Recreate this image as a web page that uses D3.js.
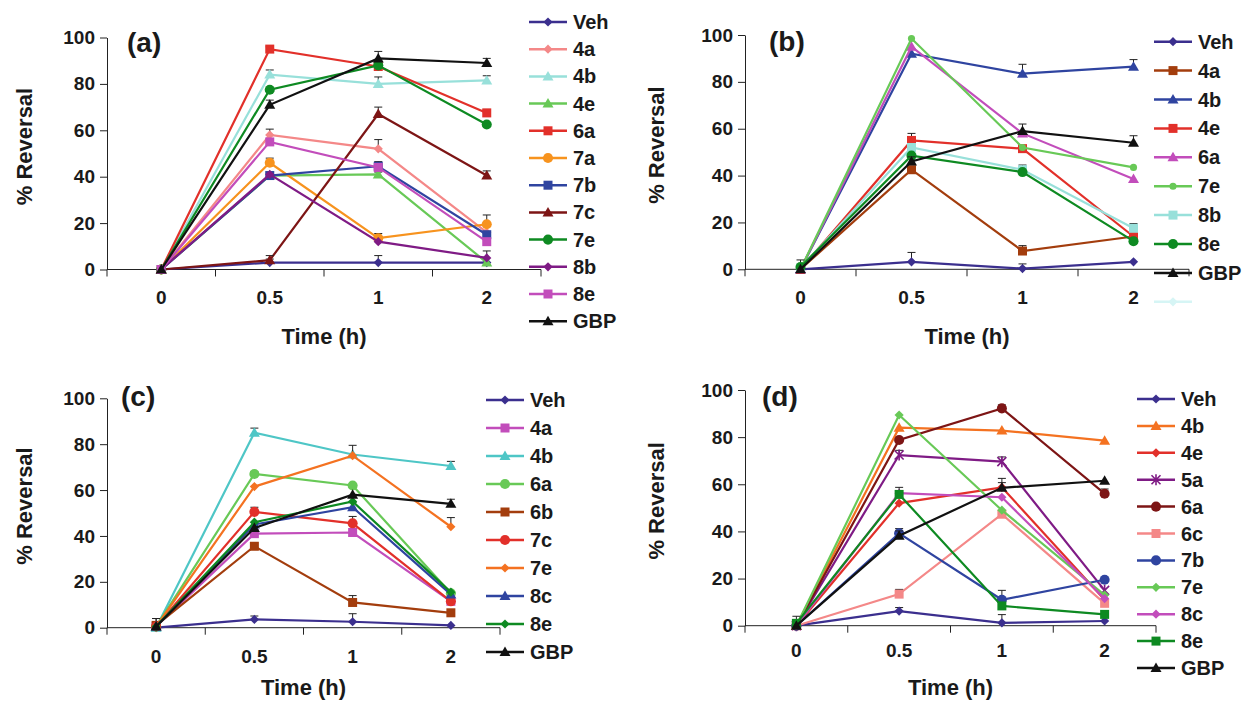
<!DOCTYPE html>
<html>
<head>
<meta charset="utf-8">
<script src="https://cdn.jsdelivr.net/npm/d3@7"></script>
<style>
body { margin: 0; background: #fff; }
svg { font-family: "Liberation Sans", Arial, sans-serif; font-weight: bold; }
</style>
</head>
<body>
<svg id="chart" width="1242" height="701"></svg>
<script>
const times = ["0", "0.5", "1", "2"];
const yTicks = [0, 20, 40, 60, 80, 100];

// panel (a)
const namesA = ["Veh", "4a", "4b", "4e", "6a", "7a", "7b", "7c", "7e", "8b", "8e", "GBP"];
const valuesA = [
  [0, 3, 3, 3], [0, 58, 52, 16], [0, 84, 80, 81.5], [0, 40.5, 41, 3],
  [0, 95, 87.5, 67.5], [0, 46, 13.5, 19.5], [0, 40.5, 44.5, 15], [0, 4, 67, 40.5],
  [0, 77.5, 88, 62.5], [0, 41, 12, 5], [0, 55, 44, 12], [0, 71, 91, 89]
];
const errorsA = [
  [0, 1.5, 3, 0], [0, 2.5, 4, 0], [0, 2, 3, 2], [0, 0, 1, 0],
  [0, 1, 0, 1.5], [0, 2, 2, 4], [0, 1, 2, 0], [0, 2, 3, 2],
  [0, 0, 1, 0], [0, 0, 0, 3], [0, 0, 0, 0], [0, 2, 3, 2]
];
const colorsA = ["#3b2f8e", "#f48888", "#98e0da", "#68c957", "#e2302a", "#f7931e",
  "#2f44a0", "#7d1515", "#0e8a22", "#7f1b85", "#c24dbb", "#111111"];
const shapesA = ["diamond", "diamond", "triangle", "triangle", "square", "circle",
  "square", "triangle", "circle", "diamond", "square", "triangle"];

// panel (b)
const namesB = ["Veh", "4a", "4b", "4e", "6a", "7e", "8b", "8e", "GBP", ""];
const valuesB = [
  [0, 3.2, 0.3, 3.2], [0, 42.5, 7.8, 14], [0, 92, 83.5, 86.5], [0, 55, 51.5, 14],
  [0, 95, 58, 38.5], [0, 98.5, 52, 43.5], [0.5, 52, 42.5, 17.5], [1, 48.5, 41.5, 12],
  [0, 46, 59, 54], [null, null, null, null]
];
const errorsB = [
  [0, 4, 2, 0], [0, 0, 2.3, 0], [0, 2, 4, 3], [0, 3, 0, 0],
  [0, 0, 0, 0], [0, 0, 0, 0], [0, 0, 2, 2], [3, 0, 0, 0],
  [0, 2, 3, 3], [0, 0, 0, 0]
];
const colorsB = ["#3b2f8e", "#a33d0d", "#2f44a0", "#e2302a", "#c24dbb", "#68c957",
  "#98e0da", "#0e8a22", "#111111", "#d6f5f5"];
const shapesB = ["diamond", "square", "triangle", "square", "triangle", "dot",
  "square", "circle", "triangle", "diamond"];

// panel (c)
const namesC = ["Veh", "4a", "4b", "6a", "6b", "7c", "7e", "8c", "8e", "GBP"];
const valuesC = [
  [0, 3.6, 2.6, 1], [0.5, 41, 41.5, 11.5], [0, 85, 75.5, 70.5], [0.5, 67, 62, 15],
  [1, 35.5, 11, 6.5], [0.5, 50.5, 45.5, 11.5], [0.5, 61.5, 75, 44], [0.5, 45, 52.5, 14.5],
  [0.5, 46, 55, 15.5], [0.5, 43.5, 58, 54]
];
const errorsC = [
  [0, 1.5, 3.5, 0], [0, 0, 0, 0], [4, 2, 0, 2], [0, 1, 0, 0],
  [3, 0, 3, 0], [0, 2, 3, 0], [0, 0, 4.5, 4], [0, 0, 2, 0],
  [0, 0, 0, 0], [0, 0, 0, 2]
];
const colorsC = ["#3b2f8e", "#c24dbb", "#4ec6c6", "#68c957", "#a33d0d", "#e2302a",
  "#f47221", "#2f44a0", "#0e8a22", "#111111"];
const shapesC = ["diamond", "square", "triangle", "circle", "square", "circle",
  "diamond", "triangle", "diamond", "triangle"];

// panel (d)
const namesD = ["Veh", "4b", "4e", "5a", "6a", "6c", "7b", "7e", "8c", "8e", "GBP"];
const valuesD = [
  [0, 6.2, 1.2, 2], [0, 84, 82.8, 78.5], [0, 52, 58.7, 11], [0, 72.4, 69.6, 15],
  [0, 78.8, 92.2, 56], [0, 13.4, 47.3, 9.5], [0, 39.2, 11, 19.5], [0, 89.4, 49, 13],
  [0, 56.2, 54.5, 11.5], [1, 55.7, 8.4, 4.8], [0, 38.2, 58.5, 61.5]
];
const errorsD = [
  [0, 1.5, 3.5, 0], [0, 0, 0, 0], [0, 0, 2, 0], [0, 2, 2, 0],
  [0, 0, 1.5, 2], [0, 2, 0, 0], [0, 2, 4, 0], [0, 0, 0, 0],
  [0, 0, 0, 0], [3, 3, 0, 0], [0, 2, 4, 0]
];
const colorsD = ["#3b2f8e", "#f47221", "#e2302a", "#7f1b85", "#7d1515", "#f48888",
  "#2f44a0", "#68c957", "#c24dbb", "#0e8a22", "#111111"];
const shapesD = ["diamond", "triangle", "diamond", "star", "circle", "square",
  "circle", "diamond", "diamond", "square", "triangle"];

const panels = [
  { label: "(a)", names: namesA, values: valuesA, errors: errorsA, colors: colorsA, shapes: shapesA,
    x0: 107, x1: 541, yTop: 37.5, yBot: 269.5, labX: 127, labY: 52,
    titleX: 32, tickY: 304, timeY: 344, lx: 529, ly: 22, lstep: 27.2 },
  { label: "(b)", names: namesB, values: valuesB, errors: errorsB, colors: colorsB, shapes: shapesB,
    x0: 745, x1: 1189, yTop: 35, yBot: 269.3, labX: 769, labY: 51,
    titleX: 664, tickY: 304, timeY: 344, lx: 1154, ly: 41.7, lstep: 28.9 },
  { label: "(c)", names: namesC, values: valuesC, errors: errorsC, colors: colorsC, shapes: shapesC,
    x0: 107, x1: 500, yTop: 398.3, yBot: 627.7, labX: 121, labY: 406,
    titleX: 32, tickY: 663, timeY: 695, lx: 486, ly: 400, lstep: 28 },
  { label: "(d)", names: namesD, values: valuesD, errors: errorsD, colors: colorsD, shapes: shapesD,
    x0: 745, x1: 1156, yTop: 390, yBot: 625.7, labX: 762, labY: 406,
    titleX: 664, tickY: 657, timeY: 695, lx: 1137, ly: 399, lstep: 26.9 }
];

function markerPath(shape) {
  if (shape === "diamond") return "M0,-4.6L4.6,0L0,4.6L-4.6,0Z";
  if (shape === "square") return "M-4.5,-4.5h9v9h-9Z";
  if (shape === "triangle") return "M0,-5.5L5.5,4L-5.5,4Z";
  if (shape === "circle") return d3.symbol(d3.symbolCircle, 80)();
  if (shape === "dot") return d3.symbol(d3.symbolCircle, 40)();
  if (shape === "star") return "M-4.5,-4.5L4.5,4.5M-4.5,4.5L4.5,-4.5M0,-5.5V5.5";
  return "";
}

function drawMarker(g, shape, color, cx, cy) {
  const p = g.append("path")
    .attr("d", markerPath(shape))
    .attr("transform", `translate(${cx},${cy})`);
  if (shape === "star") p.attr("fill", "none").attr("stroke", color).attr("stroke-width", 1.6);
  else p.attr("fill", color);
}

const svg = d3.select("#chart");

panels.forEach(p => {
  const g = svg.append("g");
  const x = d3.scaleBand().domain(times).range([p.x0, p.x1]).padding(0);
  const y = d3.scaleLinear().domain([0, 100]).range([p.yBot, p.yTop]);
  const cx = t => x(t) + x.bandwidth() / 2;

  // y axis
  const ya = g.append("g")
    .attr("transform", `translate(${p.x0},0)`)
    .call(d3.axisLeft(y).tickValues(yTicks).tickSize(7).tickPadding(5).tickSizeOuter(0));
  ya.select(".domain").attr("stroke", "#222");
  ya.selectAll(".tick line").attr("stroke", "#222");
  ya.selectAll("text").attr("font-size", 19).attr("font-weight", "bold").attr("fill", "#1a1a1a")
    .attr("font-family", "Liberation Sans, Arial, sans-serif");

  // x axis: line, ticks at category boundaries, labels at centres
  g.append("line").attr("x1", p.x0).attr("x2", p.x1)
    .attr("y1", p.yBot).attr("y2", p.yBot).attr("stroke", "#222");
  const bounds = times.map(t => x(t)).concat([p.x1]);
  g.selectAll(".xt").data(bounds).enter().append("line")
    .attr("x1", d => d).attr("x2", d => d)
    .attr("y1", p.yBot).attr("y2", p.yBot + 7).attr("stroke", "#222");
  g.selectAll(".xl").data(times).enter().append("text")
    .attr("x", d => cx(d)).attr("y", p.tickY)
    .attr("text-anchor", "middle").attr("font-size", 19).attr("fill", "#1a1a1a")
    .text(d => d);

  // axis titles
  g.append("text").attr("x", (p.x0 + p.x1) / 2).attr("y", p.timeY)
    .attr("text-anchor", "middle").attr("font-size", 22).attr("fill", "#1a1a1a")
    .text("Time (h)");
  const ty = (p.yTop + p.yBot) / 2 - 7;
  g.append("text").attr("transform", `translate(${p.titleX},${ty}) rotate(-90)`)
    .attr("text-anchor", "middle").attr("font-size", 22).attr("fill", "#1a1a1a")
    .text("% Reversal");

  // panel label
  g.append("text").attr("x", p.labX).attr("y", p.labY)
    .attr("font-size", 28).attr("fill", "#1a1a1a").text(p.label);

  // series
  const line = d3.line()
    .defined(d => d.v !== null)
    .x(d => cx(d.t)).y(d => y(d.v));

  p.names.forEach((name, i) => {
    const pts = times.map((t, j) => ({ t: t, v: p.values[i][j], e: p.errors[i][j] }));
    const sg = g.append("g");
    sg.append("path").datum(pts).attr("d", line)
      .attr("fill", "none").attr("stroke", p.colors[i]).attr("stroke-width", 2.2);
    pts.filter(d => d.v !== null && d.e > 0).forEach(d => {
      const xx = cx(d.t), top = y(d.v + d.e);
      sg.append("line").attr("x1", xx).attr("x2", xx).attr("y1", y(d.v)).attr("y2", top)
        .attr("stroke", "#222").attr("stroke-width", 1);
      sg.append("line").attr("x1", xx - 4).attr("x2", xx + 4).attr("y1", top).attr("y2", top)
        .attr("stroke", "#222").attr("stroke-width", 1);
    });
    pts.filter(d => d.v !== null).forEach(d => drawMarker(sg, p.shapes[i], p.colors[i], cx(d.t), y(d.v)));
  });

  // legend
  p.names.forEach((name, i) => {
    const ly = p.ly + i * p.lstep;
    const lg = g.append("g");
    lg.append("line").attr("x1", p.lx).attr("x2", p.lx + 38).attr("y1", ly).attr("y2", ly)
      .attr("stroke", p.colors[i]).attr("stroke-width", 2.5);
    drawMarker(lg, p.shapes[i], p.colors[i], p.lx + 19, ly);
    lg.append("text").attr("x", p.lx + 44).attr("y", ly + 7)
      .attr("font-size", 20).attr("fill", "#1a1a1a").text(name);
  });
});
</script>
</body>
</html>
